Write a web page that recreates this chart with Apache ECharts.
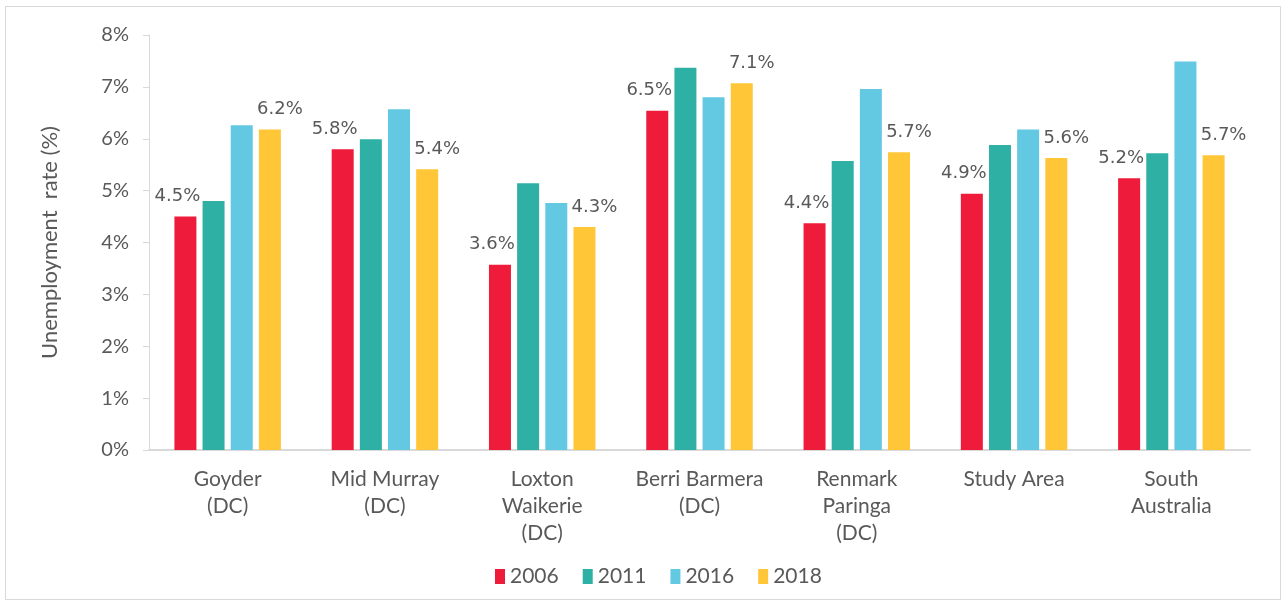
<!DOCTYPE html>
<html>
<head>
<meta charset="utf-8">
<script src="https://cdn.jsdelivr.net/npm/echarts@6/dist/echarts.min.js"></script>
<style>
  html, body { margin: 0; padding: 0; background: #fff; }
  #frame { position: absolute; left: 5px; top: 6px; width: 1274px; height: 592px; border: 1px solid #d9d9d9; }
  #main { position: absolute; left: 0; top: 0; width: 1285px; height: 606px; }
</style>
</head>
<body>
<div id="frame"></div>
<div id="main"></div>
<script>
// categories + values (% unemployment)
var areas = ['Goyder\n(DC)', 'Mid Murray\n(DC)', 'Loxton\nWaikerie\n(DC)', 'Berri Barmera\n(DC)', 'Renmark\nParinga\n(DC)', 'Study Area', 'South\nAustralia'];
var years = ['2006', '2011', '2016', '2018'];
var v2006 = [4.5, 5.8, 3.57, 6.54, 4.37, 4.94, 5.24];
var v2011 = [4.8, 5.99, 5.14, 7.37, 5.57, 5.88, 5.72];
var v2016 = [6.26, 6.57, 4.76, 6.8, 6.96, 6.18, 7.49];
var v2018 = [6.18, 5.41, 4.3, 7.07, 5.74, 5.63, 5.68];
var yTicks = [0, 1, 2, 3, 4, 5, 6, 7, 8];

var colors = ['#EE1B3B', '#2EB0A5', '#63C9E2', '#FFC637'];
var txt = '#595959';

var myChart = echarts.init(document.getElementById('main'));

function mkSeries(name, data, idx, labelOffset) {
  var s = {
    name: name,
    type: 'bar',
    data: data,
    barWidth: 22,
    barGap: '28%',
    itemStyle: { color: colors[idx] }
  };
  if (labelOffset !== null) {
    s.label = {
      show: true,
      position: 'top',
      distance: 11,
      offset: [labelOffset, 0],
      color: txt,
      fontFamily: 'DejaVu Sans',
      fontSize: 18,
      formatter: function (p) { return p.value.toFixed(1) + '%'; }
    };
  }
  return s;
}

var option = {
  animation: false,
  grid: { left: 149, right: 35, top: 35, bottom: 156 },
  legend: {
    bottom: 14,
    left: 490,
    itemWidth: 10,
    itemHeight: 15,
    itemGap: 24,
    icon: 'rect',
    textStyle: { color: txt, fontSize: 21, fontFamily: 'Lato' },
    data: years
  },
  xAxis: {
    type: 'category',
    data: areas,
    axisLine: { lineStyle: { color: '#d9d9d9', width: 2 } },
    axisTick: { show: false },
    axisLabel: { color: txt, fontSize: 21, fontFamily: 'Lato', lineHeight: 27, margin: 16, interval: 0 }
  },
  yAxis: {
    type: 'value',
    min: yTicks[0],
    max: yTicks[yTicks.length - 1],
    interval: 1,
    name: 'Unemployment  rate (%)',
    nameLocation: 'middle',
    nameGap: 88,
    nameTextStyle: { color: txt, fontSize: 22, fontFamily: 'Lato' },
    axisLine: { show: true, lineStyle: { color: '#d9d9d9' } },
    axisTick: { show: true, length: 6, lineStyle: { color: '#d9d9d9' } },
    splitLine: { show: false },
    axisLabel: { color: txt, fontSize: 20, fontFamily: 'Lato', margin: 20, formatter: '{value}%' }
  },
  series: [
    mkSeries('2006', v2006, 0, -8),
    mkSeries('2011', v2011, 1, null),
    mkSeries('2016', v2016, 2, null),
    mkSeries('2018', v2018, 3, 10)
  ]
};

myChart.setOption(option);
</script>
</body>
</html>
